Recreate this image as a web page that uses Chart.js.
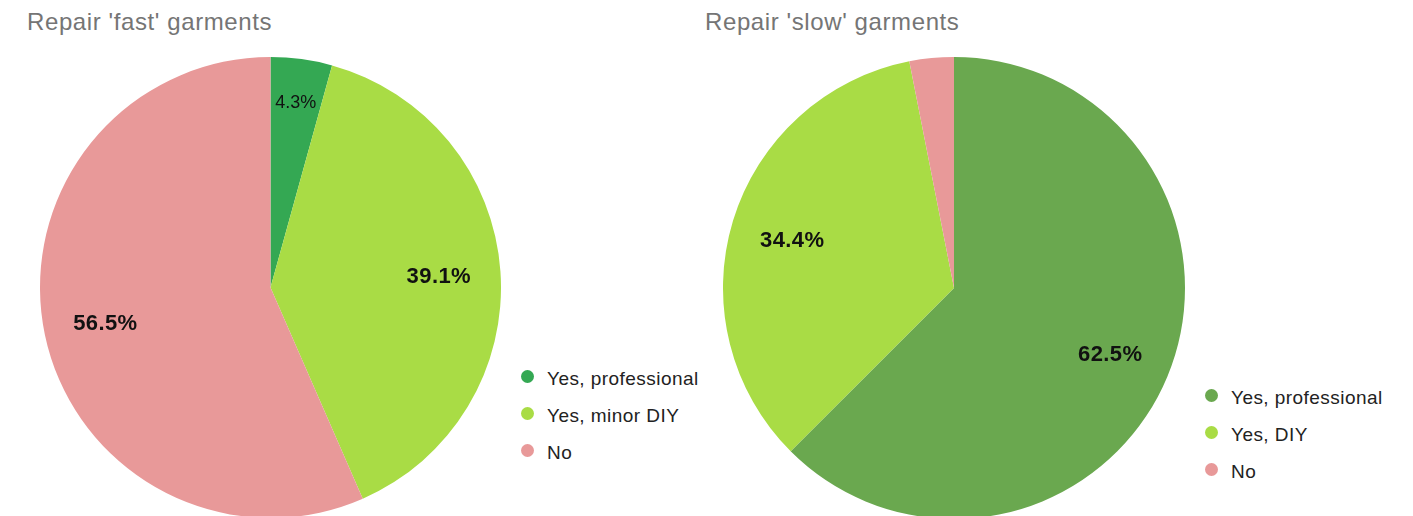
<!DOCTYPE html>
<html>
<head>
<meta charset="utf-8">
<script src="https://cdn.jsdelivr.net/npm/chart.js@4/dist/chart.umd.min.js"></script>
<style>
  html, body { margin: 0; padding: 0; background: #fff; width: 1413px; height: 516px; overflow: hidden; }
  body { position: relative; font-family: "Liberation Sans", Arial, sans-serif; }
  .title { position: absolute; font-size: 24px; line-height: 24px; letter-spacing: 0.6px; color: #757575; white-space: nowrap; }
  .pie { position: absolute; }
  .legend { position: absolute; font-size: 19px; letter-spacing: 0.45px; color: #222; }
  .legend .item { position: relative; height: 37px; line-height: 20px; padding-left: 26px; white-space: nowrap; }
  .legend .dot { position: absolute; left: 0; top: 1px; width: 13px; height: 13px; border-radius: 50%; }
</style>
</head>
<body>
<div class="title" id="titleFast" style="left:27px; top:10px;"></div>
<div class="title" id="titleSlow" style="left:705px; top:10px;"></div>
<div class="pie" style="left:40px; top:57px; width:461px; height:461px;"><canvas id="fastChart"></canvas></div>
<div class="pie" style="left:723px; top:57px; width:462px; height:462px;"><canvas id="slowChart"></canvas></div>
<div class="legend" id="legendFast" style="left:521px; top:369px;"></div>
<div class="legend" id="legendSlow" style="left:1205px; top:388px;"></div>
<script>
// Repair of 'fast' garments
const fastTitle = "Repair 'fast' garments";
const fastLabels = ["Yes, professional", "Yes, minor DIY", "No"];
const fastValues = [4.3, 39.1, 56.5];
const fastColors = ["#34a853", "#a9dc45", "#e89999"];

// Repair of 'slow' garments
const slowTitle = "Repair 'slow' garments";
const slowLabels = ["Yes, professional", "Yes, DIY", "No"];
const slowValues = [62.5, 34.4, 3.1];
const slowColors = ["#6aa84f", "#a9dc45", "#e89999"];

// Percentage labels drawn inside each slice (tiny slices get none)
const sliceLabels = {
  id: 'sliceLabels',
  afterDatasetsDraw(chart) {
    const ctx = chart.ctx;
    const meta = chart.getDatasetMeta(0);
    const values = chart.data.datasets[0].data;
    const total = values.reduce((a, b) => a + b, 0);
    meta.data.forEach((arc, i) => {
      const share = values[i] / total * 100;
      if (share < 4) return;
      const p = arc.getProps(['x', 'y', 'startAngle', 'endAngle', 'outerRadius'], true);
      const mid = (p.startAngle + p.endAngle) / 2;
      const small = share < 10;
      const r = p.outerRadius * (small ? 0.815 : 0.732);
      const size = small ? 18 : 22;
      ctx.save();
      ctx.fillStyle = '#111';
      ctx.font = (small ? '' : 'bold ') + size + 'px "Liberation Sans", Arial, sans-serif';
      if ('letterSpacing' in ctx) ctx.letterSpacing = small ? '0px' : '0.4px';
      ctx.textAlign = 'center';
      ctx.textBaseline = 'alphabetic';
      const cx = p.x + Math.cos(mid) * r;
      const cy = p.y + Math.sin(mid) * r;
      ctx.fillText(values[i].toFixed(1) + '%', cx, cy + size * 0.358);
      ctx.restore();
    });
  }
};

function makePie(canvasId, labels, values, colors) {
  return new Chart(document.getElementById(canvasId), {
    type: 'pie',
    data: { labels: labels, datasets: [{ data: values, backgroundColor: colors, borderWidth: 0, hoverOffset: 0 }] },
    options: {
      responsive: true,
      maintainAspectRatio: false,
      animation: false,
      layout: { padding: 0 },
      plugins: { legend: { display: false }, tooltip: { enabled: false }, title: { display: false } }
    },
    plugins: [sliceLabels]
  });
}

function makeLegend(elId, labels, colors) {
  const el = document.getElementById(elId);
  labels.forEach((lab, i) => {
    const item = document.createElement('div');
    item.className = 'item';
    const dot = document.createElement('span');
    dot.className = 'dot';
    dot.style.background = colors[i];
    item.appendChild(dot);
    item.appendChild(document.createTextNode(lab));
    el.appendChild(item);
  });
}

document.getElementById('titleFast').textContent = fastTitle;
document.getElementById('titleSlow').textContent = slowTitle;
makePie('fastChart', fastLabels, fastValues, fastColors);
makePie('slowChart', slowLabels, slowValues, slowColors);
makeLegend('legendFast', fastLabels, fastColors);
makeLegend('legendSlow', slowLabels, slowColors);
</script>
</body>
</html>
